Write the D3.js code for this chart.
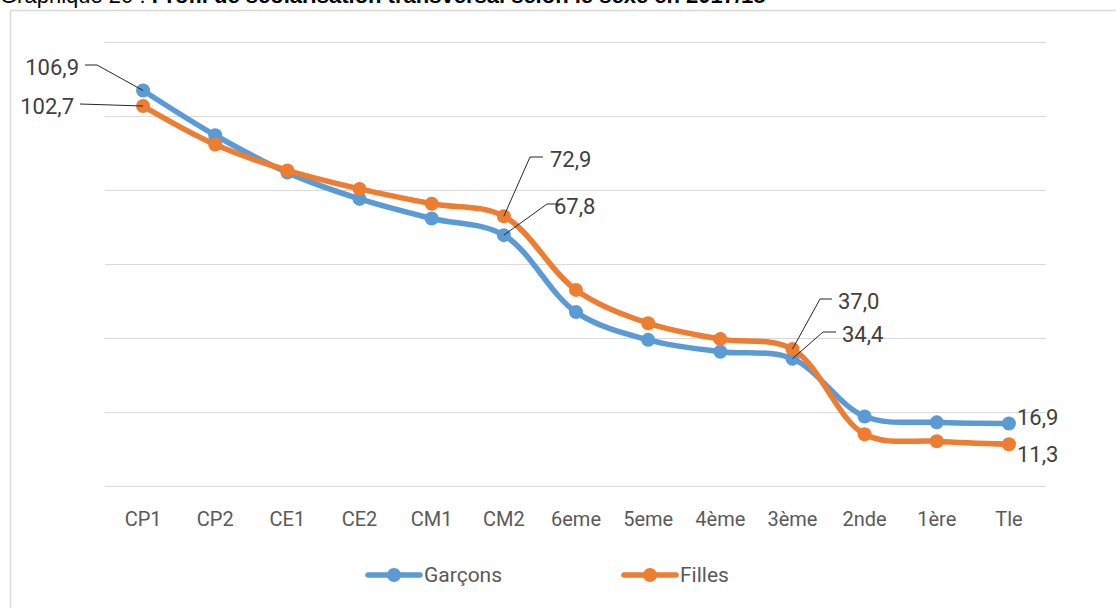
<!DOCTYPE html>
<html><head><meta charset="utf-8">
<script src="https://cdn.jsdelivr.net/npm/d3@7"></script>
<style>
html,body{margin:0;padding:0;background:#fff;overflow:hidden;}
svg{display:block;}
</style></head>
<body>
<svg id="c" width="1116" height="608"></svg>
<script>
const categories = ["CP1","CP2","CE1","CE2","CM1","CM2","6eme","5eme","4ème","3ème","2nde","1ère","Tle"];
const garcons = [106.9, 94.8, 84.7, 77.6, 72.3, 67.8, 47.0, 39.5, 36.3, 34.4, 18.8, 17.2, 16.9];
const filles  = [102.7, 92.3, 85.3, 80.3, 76.3, 72.9, 53.0, 44.0, 39.7, 37.0, 14.0, 12.1, 11.3];
const yTicks = [0, 20, 40, 60, 80, 100, 120];
const seriesNames = ["Garçons", "Filles"];
const colors = ["#5B9BD5", "#ED7D31"];

const svg = d3.select("#c");
const font = "Roboto, 'Liberation Sans', sans-serif";

// title (cut off at top as in reference)
const title = svg.append("text").attr("x", 0).attr("y", 3)
  .attr("font-family", "'Liberation Sans', Arial, sans-serif").attr("font-size", 22).attr("fill", "#000");
title.append("tspan").text("Graphique 20 : ");
title.append("tspan").attr("font-weight", "bold").text("Profil de scolarisation transversal selon le sexe en 2017/18");

// frame
svg.append("path").attr("d", "M1116,10.5 H10.5 V608").attr("fill", "none").attr("stroke", "#d9d9d9").attr("stroke-width", 1.5);

const x = d3.scaleBand().domain(categories).range([107, 1045]);
const y = d3.scaleLinear().domain([0, 120]).range([486, 42]);
const cx = c => x(c) + x.bandwidth() / 2;

// gridlines
svg.append("g").selectAll("line").data(yTicks).join("line")
  .attr("x1", 105).attr("x2", 1046)
  .attr("y1", d => Math.round(y(d)) + 0.5).attr("y2", d => Math.round(y(d)) + 0.5)
  .attr("stroke", "#d9d9d9").attr("stroke-width", 1);

// x axis labels
const xAxis = d3.axisBottom(x).tickSize(0).tickPadding(0);
const gx = svg.append("g").attr("transform", "translate(0,519)").call(xAxis);
gx.select(".domain").remove();
gx.selectAll("text").attr("font-family", font).attr("font-size", 20).attr("fill", "#595959").attr("dy", "0.35em");

// lines
const line = d3.line().x((d, i) => cx(categories[i])).y(d => y(d)).curve(d3.curveCatmullRom.alpha(0.5));
[garcons, filles].forEach((vals, k) => {
  const g = svg.append("g");
  g.append("path").attr("d", line(vals)).attr("fill", "none").attr("stroke", colors[k]).attr("stroke-width", 5.5).attr("stroke-linecap", "round");
  g.selectAll("circle").data(vals).join("circle")
    .attr("cx", (d, i) => cx(categories[i])).attr("cy", d => y(d)).attr("r", 7).attr("fill", colors[k]);
});

// data labels with leader lines
const fmt = v => v.toFixed(1).replace(".", ",");
const lab = svg.append("g").attr("font-family", font).attr("font-size", 22).attr("fill", "#404040");
function leader(idx, vals, lx, ly, hx, tx, anchor) {
  const px = cx(categories[idx]), py = y(vals[idx]);
  svg.append("path").attr("d", `M${px},${py} L${lx},${ly} H${hx}`).attr("fill", "none").attr("stroke", "#262626").attr("stroke-width", 1);
  lab.append("text").attr("x", tx).attr("y", ly + 2).attr("dy", "0.35em").attr("text-anchor", anchor).text(fmt(vals[idx]));
}
leader(0, garcons, 97, 65, 85, 79, "end");
leader(0, filles, 80, 104, 80, 74, "end");
leader(5, filles, 530, 157, 543, 550, "start");
leader(5, garcons, 547, 204, 558, 554, "start");
leader(9, filles, 820, 299, 832, 838, "start");
leader(9, garcons, 823, 332, 836, 842, "start");
const li = categories.length - 1;
lab.append("text").attr("x", cx(categories[li]) + 8).attr("y", y(garcons[li]) - 6).attr("dy", "0.35em").text(fmt(garcons[li]));
lab.append("text").attr("x", cx(categories[li]) + 8).attr("y", y(filles[li]) + 10).attr("dy", "0.35em").text(fmt(filles[li]));

// legend
const legX = [368, 624];
seriesNames.forEach((n, k) => {
  const g = svg.append("g").attr("transform", `translate(${legX[k]},575)`);
  g.append("line").attr("x1", 0).attr("x2", 52).attr("stroke", colors[k]).attr("stroke-width", 5.5).attr("stroke-linecap", "round");
  g.append("circle").attr("cx", 26).attr("r", 7).attr("fill", colors[k]);
  g.append("text").attr("x", 56).attr("dy", "0.35em").attr("font-family", font).attr("font-size", 21).attr("fill", "#595959").text(n);
});
</script>
</body></html>
